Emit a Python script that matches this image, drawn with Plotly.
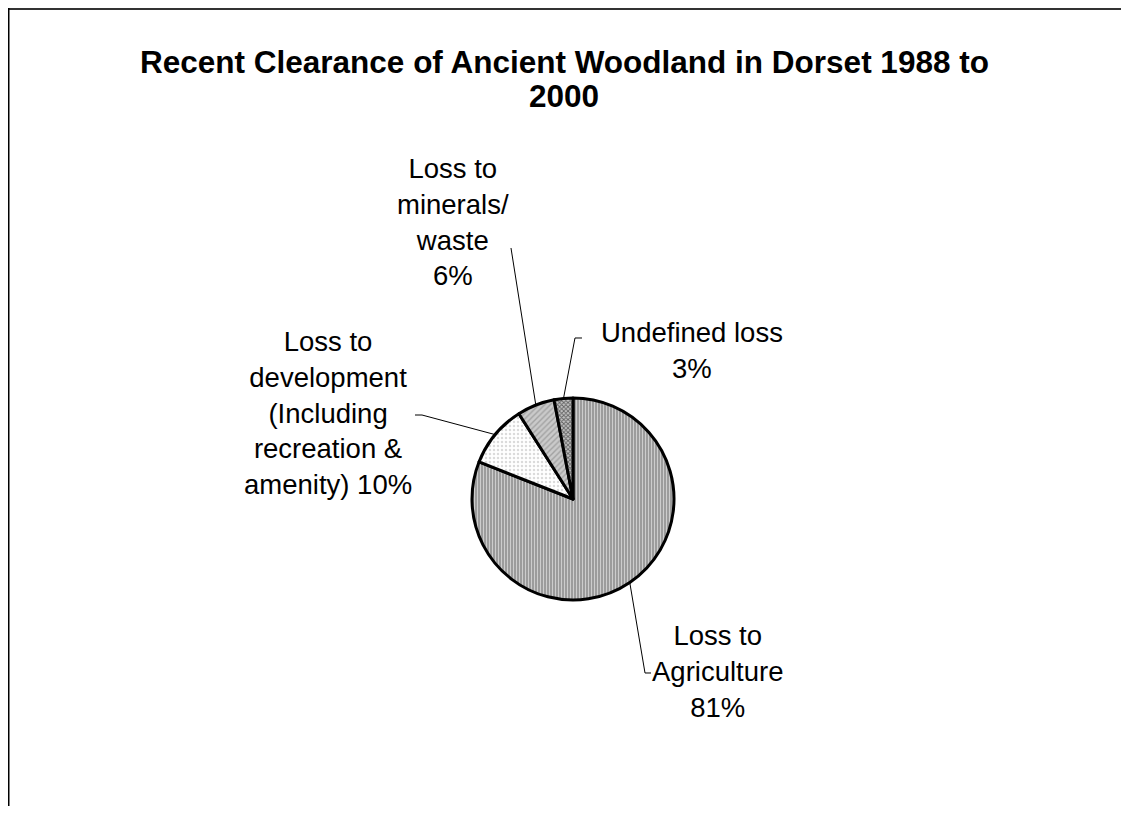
import math
import plotly.graph_objects as go

# ---- data ----
categories = ["Loss to Agriculture", "Loss to development (Including recreation & amenity)",
              "Loss to minerals/ waste", "Undefined loss"]
values = [81, 10, 6, 3]
label_texts = ["Loss to<br>Agriculture<br>81%",
               "Loss to<br>development<br>(Including<br>recreation &<br>amenity) 10%",
               "Loss to<br>minerals/<br>waste<br>6%",
               "Undefined loss<br>3%"]
title_lines = ["Recent Clearance of Ancient Woodland in Dorset 1988 to", "2000"]

# ---- styles ----
W, H = 1113, 798
FONT = "Arial, Liberation Sans, sans-serif"
pat_shapes = ["|", ".", "/", "x"]
pat_fg = ["#ffffff", "#b5b5b5", "#7a7a7a", "#000000"]
pat_bg = ["#9c9c9c", "#ffffff", "#cacaca", "#c4c4c4"]
pat_size = [3, 4, 4, 3]
pat_sol = [0.33, 0.3, 0.35, 0.5]

# pie geometry (pixels, figure coords)
CX, CY, R = 565, 491, 101
dom_x = [(CX - R) / W, (CX + R) / W]
dom_y = [1 - (CY + R) / H, 1 - (CY - R) / H]

# label placement (pixels) and leader-line elbows
label_pos = [(709, 663), (320, 405), (445, 214), (684, 342)]
leader_ends = [[(637, 665), (643, 665)],
               [(414, 407), (407, 407)],
               [(503, 240)],
               [(567, 330), (574, 330)]]
title_pos = [(556, 54), (556, 88)]

fig = go.Figure(go.Pie(
    labels=categories, values=values, sort=False, direction="clockwise",
    rotation=0, textinfo="none", hoverinfo="label+percent",
    domain=dict(x=dom_x, y=dom_y),
    marker=dict(colors=pat_bg,
                line=dict(color="black", width=3),
                pattern=dict(shape=pat_shapes, fgcolor=pat_fg, bgcolor=pat_bg,
                             size=pat_size, solidity=pat_sol, fillmode="overlay")),
    showlegend=False,
))

def px2paper(x, y):
    return x / W, 1 - y / H

total = sum(values)
cum = 0
shapes = []
annotations = []
for i, v in enumerate(values):
    mid = (cum + v / 2) / total * 2 * math.pi
    cum += v
    px = CX + R * math.sin(mid)
    py = CY - R * math.cos(mid)
    pts = [(px, py)] + leader_ends[i]
    path = "M " + " L ".join(f"{px2paper(a, b)[0]:.5f},{px2paper(a, b)[1]:.5f}" for a, b in pts)
    shapes.append(dict(type="path", path=path, xref="paper", yref="paper",
                       line=dict(color="black", width=1)))
    lx, ly = px2paper(*label_pos[i])
    annotations.append(dict(text=label_texts[i], x=lx, y=ly, xref="paper", yref="paper",
                            xanchor="center", yanchor="middle", align="center",
                            showarrow=False, font=dict(family=FONT, size=27.5, color="black")))

for t, (x, y) in zip(title_lines, title_pos):
    tx, ty = px2paper(x, y)
    annotations.append(dict(text=f"<b>{t}</b>", x=tx, y=ty, xref="paper", yref="paper",
                            xanchor="center", yanchor="middle", align="center", showarrow=False,
                            font=dict(family=FONT, size=31.5, color="black")))

# chart frame
shapes.append(dict(type="line", xref="paper", yref="paper", x0=0, x1=1, y0=1 - 1 / H, y1=1 - 1 / H,
                   line=dict(color="#333333", width=2)))
shapes.append(dict(type="line", xref="paper", yref="paper", x0=0.5 / W, x1=0.5 / W, y0=0, y1=1,
                   line=dict(color="black", width=2)))

fig.update_layout(width=W, height=H, margin=dict(l=0, r=0, t=0, b=0),
                  paper_bgcolor="white", plot_bgcolor="white",
                  shapes=shapes, annotations=annotations)

fig.write_html("out.html", config={"displayModeBar": False})
